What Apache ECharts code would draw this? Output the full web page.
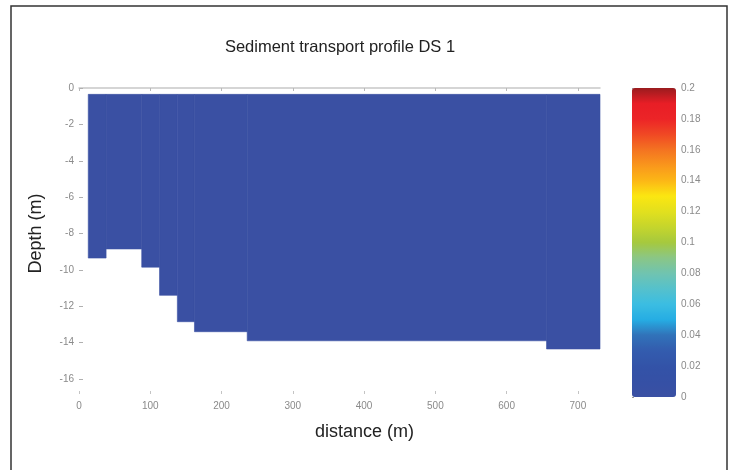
<!DOCTYPE html>
<html>
<head>
<meta charset="utf-8">
<script src="https://cdn.jsdelivr.net/npm/echarts@6/dist/echarts.min.js"></script>
<style>
  html, body { margin: 0; padding: 0; background: #fff; }
  #chart { width: 729px; height: 470px; }
</style>
</head>
<body>
<div id="chart"></div>
<script>
// Horizontal breakpoints of the stepped bed (distance, m)
const stepEdges = [13, 38, 88, 113, 138, 162, 236, 656, 731];
// Bed level between consecutive breakpoints (m)
const bedDepth = [-9.35, -8.85, -9.85, -11.4, -12.85, -13.4, -13.9, -14.35];
// Water surface level (m)
const surfaceLevel = -0.35;
// Sediment transport in each step of the section
const transport = [0, 0, 0, 0, 0, 0, 0, 0];

// Axis tick labels
const distanceTicks = [0, 100, 200, 300, 400, 500, 600, 700];
const depthTicks = [0, -2, -4, -6, -8, -10, -12, -14, -16];
const scaleTicks = [0, 0.02, 0.04, 0.06, 0.08, 0.1, 0.12, 0.14, 0.16, 0.18, 0.2];
const distanceMax = 731;

// Colour scale from 0 to 0.2, one stop per 0.01
const jetStops = [
  '#3a50a3', '#3550a5', '#3353a8', '#335cae', '#3172b9',
  '#26ade3', '#3bbde2', '#55c1cc', '#70c4b0', '#8ac686',
  '#a6c93e', '#c5d52c', '#e2e01e', '#fbe611', '#fcb716',
  '#f9961c', '#f47321', '#f04824', '#ec2427', '#e81e26', '#9a1b1e'
];

const FONT = '"Liberation Sans", Arial, Helvetica, sans-serif';
const tickLabel = { fontSize: 10, color: '#8a8a8a', fontFamily: FONT };

const cells = transport.map((v, i) => [stepEdges[i], stepEdges[i + 1], surfaceLevel, bedDepth[i], v]);

const chart = echarts.init(document.getElementById('chart'), null, { renderer: 'canvas' });

chart.setOption({
  animation: false,
  backgroundColor: '#fff',
  title: {
    text: 'Sediment transport profile DS 1',
    left: 340,
    textAlign: 'center',
    top: 39,
    padding: 0,
    textStyle: { fontSize: 16.5, fontWeight: 'normal', color: '#222', fontFamily: FONT }
  },
  graphic: [{
    type: 'rect',
    shape: { x: 11, y: 6, width: 716, height: 500 },
    style: { fill: 'none', stroke: '#333', lineWidth: 1.5 },
    silent: true
  }],
  grid: [
    { left: 79, top: 88, width: 521, height: 291, outerBoundsMode: 'none' },
    { left: 632, top: 88, width: 44, height: 309, outerBoundsMode: 'none' }
  ],
  xAxis: [
    {
      gridIndex: 0, type: 'value', position: 'bottom',
      min: 0, max: distanceMax, offset: 12,
      name: 'distance (m)', nameLocation: 'middle', nameGap: 32,
      nameTextStyle: { fontSize: 18, color: '#222', fontFamily: FONT, padding: [0, 0, 0, 50] },
      axisLine: { show: false, onZero: false },
      axisTick: { show: true, length: 3, lineStyle: { color: '#c4c4c4' }, customValues: distanceTicks },
      axisLabel: Object.assign({ margin: 10, customValues: distanceTicks }, tickLabel),
      splitLine: { show: false }
    },
    {
      gridIndex: 0, type: 'value', position: 'top',
      min: 0, max: distanceMax,
      axisLine: { show: true, onZero: false, lineStyle: { color: '#c8c8c8', width: 1.5 } },
      axisTick: { show: true, inside: true, length: 3, lineStyle: { color: '#b8b8b8' }, customValues: distanceTicks },
      axisLabel: { show: false },
      splitLine: { show: false }
    },
    {
      gridIndex: 1, type: 'value', min: 0, max: 1, show: false
    }
  ],
  yAxis: [
    {
      gridIndex: 0, type: 'value',
      min: Math.min(...depthTicks), max: Math.max(...depthTicks),
      interval: depthTicks[0] - depthTicks[1],
      name: 'Depth (m)', nameLocation: 'middle', nameGap: 34,
      nameTextStyle: { fontSize: 18, color: '#222', fontFamily: FONT },
      axisLine: { show: false },
      axisTick: { show: true, inside: true, length: 4, lineStyle: { color: '#b0b0b0' } },
      axisLabel: Object.assign({ margin: 5 }, tickLabel),
      splitLine: { show: false }
    },
    {
      gridIndex: 1, type: 'value', position: 'right',
      min: Math.min(...scaleTicks), max: Math.max(...scaleTicks),
      interval: scaleTicks[1] - scaleTicks[0],
      axisLine: { show: false },
      axisTick: { show: true, length: 2, lineStyle: { color: '#999' } },
      axisLabel: Object.assign({ margin: 5 }, tickLabel),
      splitLine: { show: false }
    }
  ],
  visualMap: {
    type: 'continuous',
    min: Math.min(...scaleTicks), max: Math.max(...scaleTicks),
    dimension: 4,
    seriesIndex: 0,
    calculable: false,
    show: true,
    left: 632, top: 88,
    padding: 0,
    itemWidth: 44, itemHeight: 309,
    text: null,
    inRange: { color: jetStops }
  },
  series: [{
    type: 'custom',
    xAxisIndex: 0, yAxisIndex: 0,
    encode: { x: [0, 1], y: [2, 3] },
    data: cells,
    renderItem: function (params, api) {
      const p0 = api.coord([api.value(0), api.value(2)]);
      const p1 = api.coord([api.value(1), api.value(3)]);
      const c = api.visual('color');
      return {
        type: 'rect',
        shape: { x: p0[0], y: p0[1], width: p1[0] - p0[0], height: p1[1] - p0[1] },
        style: { fill: c, stroke: c, lineWidth: 0.6 }
      };
    }
  }]
});
</script>
</body>
</html>
